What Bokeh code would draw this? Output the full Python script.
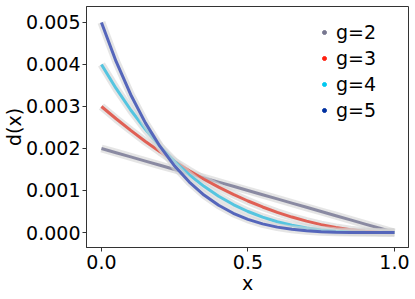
from bokeh.plotting import figure
from bokeh.models import Range1d, Legend, LegendItem, ColumnDataSource
from bokeh.embed import file_html
from bokeh.resources import INLINE

x_vals = [0.0, 0.05, 0.1, 0.15, 0.2, 0.25, 0.3, 0.35, 0.4, 0.45, 0.5,
          0.55, 0.6, 0.65, 0.7, 0.75, 0.8, 0.85, 0.9, 0.95, 1.0]
# values in units of 0.001
d_g2 = [2.0, 1.9, 1.8, 1.7, 1.6, 1.5, 1.4, 1.3, 1.2, 1.1, 1.0,
        0.9, 0.8, 0.7, 0.6, 0.5, 0.4, 0.3, 0.2, 0.1, 0.0]
d_g3 = [3.0, 2.7075, 2.43, 2.1675, 1.92, 1.6875, 1.47, 1.2675, 1.08, 0.9075, 0.75,
        0.6075, 0.48, 0.3675, 0.27, 0.1875, 0.12, 0.0675, 0.03, 0.0075, 0.0]
d_g4 = [4.0, 3.4295, 2.916, 2.4565, 2.048, 1.6875, 1.372, 1.0985, 0.864, 0.6655, 0.5,
        0.3645, 0.256, 0.1715, 0.108, 0.0625, 0.032, 0.0135, 0.004, 0.0005, 0.0]
d_g5 = [5.0, 4.0725, 3.2805, 2.61, 2.048, 1.582, 1.2005, 0.8925, 0.648, 0.4575, 0.3125,
        0.205, 0.128, 0.075, 0.0405, 0.0195, 0.008, 0.0025, 0.0005, 0.00003, 0.0]
labels = ["g=2", "g=3", "g=4", "g=5"]
series = [d_g2, d_g3, d_g4, d_g5]
marker_colors = ["#777790", "#ff2010", "#00c8f0", "#0030a0"]
line_colors = ["#8a8aa2", "#e06055", "#55c5e0", "#5566bb"]
x_ticks = [0.0, 0.5, 1.0]
x_tick_labels = ["0.0", "0.5", "1.0"]
y_ticks = [0.0, 0.001, 0.002, 0.003, 0.004, 0.005]
y_tick_labels = ["0.000", "0.001", "0.002", "0.003", "0.004", "0.005"]

FONT = "DejaVu Sans"
FS = "19px"

p = figure(width=415, height=299, output_backend="svg", toolbar_location=None,
           x_range=Range1d(-0.051, 1.048), y_range=Range1d(-0.000357, 0.00538),
           min_border_left=85, min_border_right=7, min_border_top=6, min_border_bottom=52)
p.grid.visible = False
p.outline_line_color = "#333333"
p.outline_line_width = 1

for s, lc in zip(series, line_colors):
    ys = [v * 0.001 for v in s]
    src = ColumnDataSource(dict(x=x_vals, y=ys))
    p.line("x", "y", source=src, line_color="#d4d4d4", line_alpha=0.6, line_width=8)
    p.line("x", "y", source=src, line_color=lc, line_width=3)

items = []
for lab, mc in zip(labels, marker_colors):
    r = p.scatter(x=[-10.0], y=[-10.0], marker="circle", size=7, fill_color=mc, line_color=mc)
    items.append(LegendItem(label=lab, renderers=[r]))

legend = Legend(items=items, location=(233, 126), border_line_color=None,
                background_fill_alpha=0, label_text_font=FONT, label_text_font_size=FS,
                label_text_color="#000000",
                glyph_width=10, glyph_height=22, label_standoff=7, spacing=4,
                padding=0, margin=0, label_height=22)
p.add_layout(legend)

for ax in (p.xaxis[0], p.yaxis[0]):
    ax.major_label_text_font = FONT
    ax.major_label_text_font_size = FS
    ax.major_label_text_color = "#000000"
    ax.axis_label_text_font = FONT
    ax.axis_label_text_font_size = FS
    ax.axis_label_text_font_style = "normal"
    ax.axis_label_text_color = "#000000"
    ax.axis_line_color = "#333333"
    ax.major_tick_line_color = "#333333"
    ax.major_tick_out = 4
    ax.major_tick_in = 0
    ax.minor_tick_line_color = None

p.xaxis.ticker = x_ticks
p.xaxis.major_label_overrides = dict(zip(x_ticks, x_tick_labels))
p.yaxis.ticker = y_ticks
p.yaxis.major_label_overrides = dict(zip(y_ticks, y_tick_labels))
p.xaxis.axis_label = "x"
p.yaxis.axis_label = "d(x)"
p.xaxis.major_label_standoff = 3
p.yaxis.major_label_standoff = 2
p.xaxis.axis_label_standoff = 0
p.yaxis.axis_label_standoff = -2

open("out.html", "w").write(file_html(p, INLINE))
